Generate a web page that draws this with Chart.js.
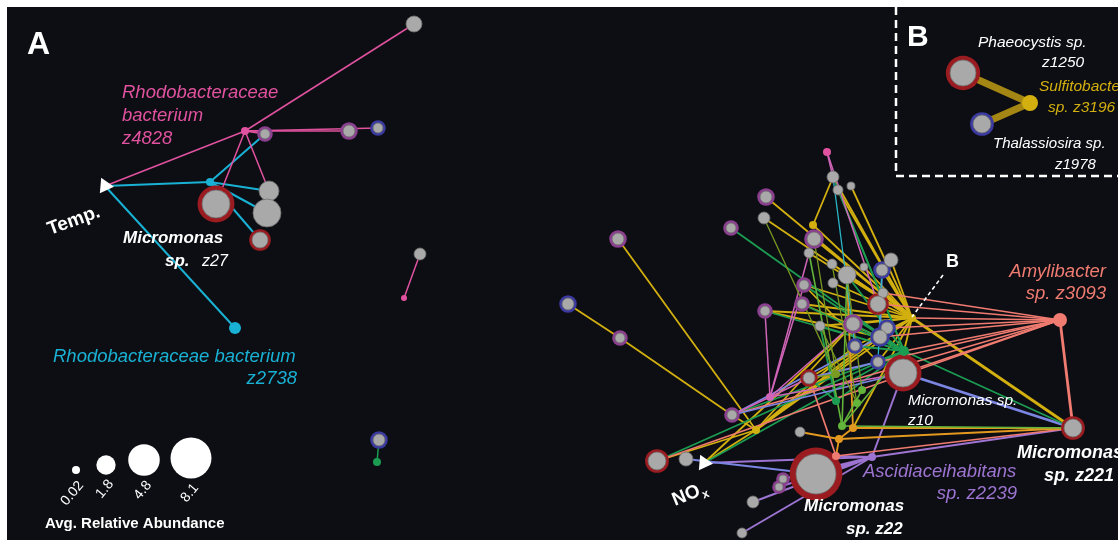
<!DOCTYPE html>
<html>
<head>
<meta charset="utf-8">
<script src="https://cdn.jsdelivr.net/npm/chart.js@4.4.1/dist/chart.umd.min.js"></script>
<style>
  html, body { margin: 0; padding: 0; background: #fff; }
  #wrap { width: 1118px; height: 540px; }
</style>
</head>
<body>
<div id="wrap"><canvas id="net"></canvas></div>
<script>
// ---- network data: node ids, layout coordinates, avg relative abundance, node kind ----
var nodeIds = [
  'temp','lpink','ltop','la','lb','lc','lcyan','z27','ld','le','lf','z2738','lg','lpink2','lh','lgreen',
  'nox','y1','y2','y3','amy','sal2','asc','gr1','gr2','gr3','ol1','ol2','ol3','or1','or2','pk1','pk2',
  'g1','g2','g3','g4','g5','g6','g7','g8','g9','g10','g11','g12','g13','g14','g15','g16','g17','g18',
  'g19','g20','g21','g22','g23','g24','g25','g26','g27','g28','z10','g29','g30','g31','g32','g33','z22',
  'g34','g35','g36','g37','z221','phaeo','thal','sulfi'
];
var nodeX = [
  105,245,414,265,349,378,210,216,269,267,260,235,420,404,379,377,
  704,912,756,813,1060,836,872,904,836,842,836,862,857,853,839,770,827,
  766,764,731,618,568,620,814,809,832,847,864,891,882,833,838,851,804,833,
  883,878,802,765,820,853,887,880,855,878,903,809,732,800,657,686,816,
  783,779,753,742,1073,963,982,1030
];
var nodeY = [
  186,131,24,134,131,128,182,204,191,213,240,328,254,298,440,462,
  463,318,430,225,320,456,457,351,401,426,374,390,403,428,439,397,152,
  197,218,228,239,304,338,239,253,264,275,267,260,270,177,190,186,285,283,
  293,304,304,311,326,324,328,337,346,362,373,378,415,432,461,459,474,
  479,487,502,533,428,73,124,103
];
var nodeAbund = [
  0,0.31,1.23,0.48,0.69,0.48,0.31,3.78,1.93,3.78,1.23,0.69,0.69,0.17,0.69,0.31,
  0,0.31,0.31,0.31,0.95,0.31,0.31,0.48,0.31,0.31,0.31,0.31,0.31,0.31,0.31,0.31,0.31,
  0.69,0.69,0.48,0.69,0.69,0.48,0.95,0.48,0.48,1.56,0.31,0.95,0.69,0.69,0.48,0.31,0.48,0.48,
  0.48,1.23,0.48,0.48,0.48,0.95,0.69,0.95,0.48,0.48,3.78,0.69,0.48,0.48,1.56,0.95,7.72,
  0.31,0.31,0.69,0.48,1.56,3.26,1.56,1.23
];
var nodeKind = [
  'env','pink','gray','grayP','grayP','grayB','cyan','grayR','gray','gray','grayR','cyan','gray','pink','grayB','green',
  'env','yellow','yellow','yellow','salmon','salmon','purple','green','green','lime','olive','lime','lime','orange','orange','magenta','pink',
  'grayP','gray','grayP','grayP','grayB','grayP','grayP','gray','gray','gray','gray','gray','grayB','gray','gray','gray','grayP','gray',
  'gray','grayR','grayP','grayP','gray','grayP','grayB','grayB','grayB','grayB','grayR','grayR','grayP','gray','grayR','gray','grayR',
  'grayP','grayP','gray','gray','grayR','grayR','grayB','yellow'
];

// ---- correlation edges, grouped by colour of the bacterial partner ----
var edgesPink = [['temp','lpink'],['lpink','ltop'],['lpink','la'],['lpink','lb'],['lpink','lc'],['lpink','z27'],['lpink','ld'],['lg','lpink2']];
var edgesCyan = [['temp','lcyan'],['lcyan','la'],['lcyan','ld'],['lcyan','le'],['lcyan','lf'],['temp','z2738']];
var edgesGreenLeft = [['lh','lgreen']];
var edgesYellow = [
  ['g4','y2'],['g5','g6'],['g6','g30'],['y2','nox'],['y2','g30'],['y2','y1'],['y2','g32'],['y2','g24'],['y2','g27'],
  ['y3','g14'],['y3','y1'],['y1','g1'],['y1','g2'],['y1','g7'],['y1','g8'],['y1','g9'],['y1','g10'],['y1','g12'],
  ['y1','g14'],['y1','g15'],['y1','g16'],['y1','g17'],['y1','g18'],['y1','g21'],['y1','g22'],['y1','g13'],['y1','g19'],
  ['y1','g11'],['y1','gr1'],['y1','g29'],['nox','g24'],['g21','g26'],['y1','g23'],['y1','g24'],['y1','g27'],
  ['y1','g28'],['y2','g26'],['y2','g25'],['g22','g26'],['g17','g28'],['y1','or1']
];
var edgesYellowThick = [['y1','z221']];
var edgesGreen = [
  ['g3','gr1'],['g22','gr1'],['g17','gr1'],['g21','gr1'],['g14','gr1'],['gr1','z221'],['g30','gr1'],['g32','gr1'],
  ['gr2','g29'],['gr1','g27'],['g24','gr1'],['nox','gr1'],['gr2','g23'],['gr1','g10'],['gr1','g28'],['gr1','z10'],
  ['gr2','gr1'],['g15','gr1'],['g23','gr1'],['g26','gr1']
];
var edgesSalmon = [
  ['amy','g20'],['amy','g25'],['amy','g26'],['amy','gr1'],['amy','z10'],['amy','g28'],['amy','y1'],['amy','g19'],
  ['amy','g30'],['amy','g32'],['sal2','z221'],['sal2','z22'],['sal2','g29']
];
var edgesSalmonThick = [['amy','z221']];
var edgesMagenta = [['pk2','g14'],['pk2','g20'],['pk1','g30'],['pk1','g22'],['pk1','g8'],['pk1','g24'],['pk1','g29'],['pk1','z10'],['pk1','g17']];
var edgesPurple = [['asc','z10'],['asc','z221'],['asc','nox'],['asc','g34'],['asc','g35'],['asc','g36'],['asc','g37'],['asc','z22'],['asc','sal2']];
var edgesBlue = [['g30','z10'],['g29','g28'],['g30','g26'],['g33','z22'],['g13','g26'],['g24','g27']];
var edgesBlueThick = [['z10','z221']];
var edgesOrange = [['or1','z221'],['or2','z221'],['or2','g31'],['or1','or2'],['or2','sal2'],['or1','g10']];
var edgesOlive = [['ol1','g7'],['ol1','g2'],['ol2','g10'],['ol3','g9'],['ol1','g29'],['ol3','g23']];
var edgesLime = [['gr3','z221'],['gr3','g8'],['gr3','g10'],['ol2','gr3'],['gr3','gr1']];
var edgesTeal = [['g13','g28'],['g14','g27']];
var edgesB = [['phaeo','sulfi'],['thal','sulfi']];

// size legend
var legendAbund = [0.02, 1.8, 4.8, 8.1];
var legendTicks = ['0.02', '1.8', '4.8', '8.1'];

// ---- styles ----
var colors = {
  bg: '#0d0e13', gray: '#a9a9a9', grayEdge: '#6f6f6f',
  ringR: '#9b1c20', ringP: '#8c3f90', ringB: '#3b3aa0',
  pink: '#e0529f', cyan: '#19b1d4', yellow: '#d3b00f', green: '#1c9c52', salmon: '#f07b70',
  purple: '#9d74d2', orange: '#e3991f', olive: '#7a9a22', lime: '#62b43a', magenta: '#d064b8',
  blue: '#7b86e2', teal: '#2ab6c8', bEdge: 'rgba(190,155,20,0.85)'
};
var FONT = '"Liberation Sans", Arial, Helvetica, sans-serif';

function radius(a) { return Math.max(3, 7.2 * Math.sqrt(a)); }
function idx(id) { return nodeIds.indexOf(id); }
function pt(id) { var i = idx(id); return { x: nodeX[i], y: nodeY[i] }; }

var datasets = [];
function addEdges(list, color, width) {
  list.forEach(function (p) {
    datasets.push({
      data: [pt(p[0]), pt(p[1])], showLine: true, borderColor: color, borderWidth: width,
      pointRadius: 0, pointHoverRadius: 0, order: 10
    });
  });
}
addEdges(edgesPink, colors.pink, 1.5);
addEdges(edgesCyan, colors.cyan, 2);
addEdges(edgesGreenLeft, colors.green, 1.5);
addEdges(edgesOlive, colors.olive, 1.3);
addEdges(edgesLime, colors.lime, 1.6);
addEdges(edgesTeal, colors.teal, 1.3);
addEdges(edgesMagenta, colors.magenta, 1.5);
addEdges(edgesOrange, colors.orange, 1.8);
addEdges(edgesBlue, colors.blue, 1.8);
addEdges(edgesSalmon, colors.salmon, 1.7);
addEdges(edgesGreen, colors.green, 1.8);
addEdges(edgesYellow, colors.yellow, 1.8);
addEdges(edgesPurple, colors.purple, 2);
addEdges(edgesBlueThick, colors.blue, 2.6);
addEdges(edgesYellowThick, colors.yellow, 2.8);
addEdges(edgesSalmonThick, colors.salmon, 2.8);
addEdges(edgesB, colors.bEdge, 7);

// rings (eukaryote groups), gray eukaryote nodes, coloured bacteria / env nodes
var ringMap = { grayR: colors.ringR, grayP: colors.ringP, grayB: colors.ringB };
var ringPts = [], ringRad = [], ringCol = [];
var grayPts = [], grayRad = [];
var hubPts = [], hubRad = [], hubCol = [];
var envPts = [];
nodeIds.forEach(function (id, i) {
  var k = nodeKind[i], p = { x: nodeX[i], y: nodeY[i] }, r = radius(nodeAbund[i]);
  if (k === 'env') { envPts.push(p); return; }
  if (k.indexOf('gray') === 0) {
    grayPts.push(p); grayRad.push(r);
    if (ringMap[k]) { ringPts.push(p); ringRad.push(r + Math.max(2.8, r * 0.32)); ringCol.push(ringMap[k]); }
  } else {
    hubPts.push(p); hubRad.push(r); hubCol.push(colors[k]);
  }
});
datasets.push({ data: ringPts, pointRadius: ringRad, pointHoverRadius: ringRad, pointBackgroundColor: ringCol, pointBorderWidth: 0, order: 4 });
datasets.push({ data: grayPts, pointRadius: grayRad, pointHoverRadius: grayRad, pointBackgroundColor: colors.gray, pointBorderColor: colors.grayEdge, pointBorderWidth: 0.8, order: 3 });
datasets.push({ data: hubPts, pointRadius: hubRad, pointHoverRadius: hubRad, pointBackgroundColor: hubCol, pointBorderWidth: 0, order: 2 });
datasets.push({ data: envPts, pointStyle: 'triangle', pointRotation: 95, pointRadius: 9, pointHoverRadius: 9, pointBackgroundColor: '#ffffff', pointBorderWidth: 0, order: 1 });

// ---- text annotations (layout coordinates) ----
var labels = [
  { t: 'Rhodobacteraceae', x: 122, y: 98, c: colors.pink, f: 'italic 18.5px' },
  { t: 'bacterium', x: 122, y: 121, c: colors.pink, f: 'italic 18.5px' },
  { t: 'z4828', x: 122, y: 144, c: colors.pink, f: 'italic 18.5px' },
  { t: 'Micromonas', x: 123, y: 243, c: '#fff', f: 'italic bold 17px' },
  { t: 'sp.', x: 165, y: 266, c: '#fff', f: 'italic bold 17px' },
  { t: 'z27', x: 202, y: 266, c: '#fff', f: 'italic 16px' },
  { t: 'Rhodobacteraceae bacterium', x: 53, y: 362, c: colors.cyan, f: 'italic 18.5px' },
  { t: 'z2738', x: 297, y: 384, c: colors.cyan, f: 'italic 18.5px', a: 'right' },
  { t: 'Amylibacter', x: 1106, y: 277, c: colors.salmon, f: 'italic 18.5px', a: 'right' },
  { t: 'sp. z3093', x: 1106, y: 299, c: colors.salmon, f: 'italic 18.5px', a: 'right' },
  { t: 'Micromonas sp.', x: 908, y: 405, c: '#fff', f: 'italic 15.5px' },
  { t: 'z10', x: 908, y: 425, c: '#fff', f: 'italic 15.5px' },
  { t: 'Micromonas', x: 1017, y: 458, c: '#fff', f: 'italic bold 18px' },
  { t: 'sp. z221', x: 1044, y: 481, c: '#fff', f: 'italic bold 18px' },
  { t: 'Ascidiaceihabitans', x: 863, y: 477, c: colors.purple, f: 'italic 18.5px' },
  { t: 'sp. z2239', x: 1017, y: 499, c: colors.purple, f: 'italic 18.5px', a: 'right' },
  { t: 'Micromonas', x: 804, y: 511, c: '#fff', f: 'italic bold 17px' },
  { t: 'sp. z22', x: 846, y: 534, c: '#fff', f: 'italic bold 17px' },
  { t: 'Phaeocystis sp.', x: 978, y: 47, c: '#fff', f: 'italic 15.5px' },
  { t: 'z1250', x: 1042, y: 67, c: '#fff', f: 'italic 15.5px' },
  { t: 'Sulfitobacter', x: 1039, y: 91, c: colors.yellow, f: 'italic 15.5px' },
  { t: 'sp. z3196', x: 1048, y: 112, c: colors.yellow, f: 'italic 15.5px' },
  { t: 'Thalassiosira sp.', x: 993, y: 148, c: '#fff', f: 'italic 15px' },
  { t: 'z1978', x: 1055, y: 169, c: '#fff', f: 'italic 15px' },
  { t: 'A', x: 27, y: 54, c: '#fff', f: 'bold 32px' },
  { t: 'B', x: 907, y: 46, c: '#fff', f: 'bold 30px' },
  { t: 'B', x: 946, y: 267, c: '#fff', f: 'bold 18px' },
  { t: 'Avg. Relative Abundance', x: 45, y: 528, c: '#fff', f: 'bold 15px' }
];

var decor = {
  id: 'decor',
  beforeDraw: function (chart) {
    var ctx = chart.ctx;
    ctx.save();
    ctx.fillStyle = '#fff';
    ctx.fillRect(0, 0, chart.width, chart.height);
    ctx.fillStyle = colors.bg;
    ctx.fillRect(7, 7, chart.width - 7, chart.height - 7);
    ctx.restore();
  },
  afterDatasetsDraw: function (chart) {
    var ctx = chart.ctx, sx = chart.scales.x, sy = chart.scales.y;
    function X(v) { return sx.getPixelForValue(v); }
    function Y(v) { return sy.getPixelForValue(v); }
    ctx.save();

    // inset B frame
    ctx.strokeStyle = '#fff';
    ctx.lineWidth = 2.5;
    ctx.setLineDash([8, 5]);
    ctx.beginPath();
    ctx.moveTo(X(896), Y(7));
    ctx.lineTo(X(896), Y(176));
    ctx.lineTo(X(1118), Y(176));
    ctx.stroke();
    // pointer to B
    ctx.lineWidth = 1.6;
    ctx.setLineDash([4, 3]);
    ctx.beginPath();
    ctx.moveTo(X(943), Y(275));
    ctx.lineTo(X(912), Y(317));
    ctx.stroke();
    ctx.setLineDash([]);

    labels.forEach(function (l) {
      ctx.font = l.f + ' ' + FONT;
      ctx.fillStyle = l.c;
      ctx.textAlign = l.a || 'left';
      ctx.textBaseline = 'alphabetic';
      ctx.fillText(l.t, X(l.x), Y(l.y));
    });

    // rotated environment labels
    ctx.fillStyle = '#fff';
    ctx.textAlign = 'left';
    ctx.save();
    ctx.translate(X(50), Y(235));
    ctx.rotate(-20 * Math.PI / 180);
    ctx.font = 'bold 19px ' + FONT;
    ctx.fillText('Temp.', 0, 0);
    ctx.restore();
    ctx.save();
    ctx.translate(X(675), Y(506));
    ctx.rotate(-22 * Math.PI / 180);
    ctx.font = 'bold 19px ' + FONT;
    ctx.fillText('NO', 0, 0);
    var w = ctx.measureText('NO').width;
    ctx.font = 'bold 12px ' + FONT;
    ctx.fillText('x', w + 1, 4);
    ctx.restore();

    // abundance size legend
    var lx = [76, 106, 144, 191], ly = [470, 465, 460, 458];
    legendAbund.forEach(function (a, i) {
      ctx.fillStyle = '#fff';
      ctx.beginPath();
      ctx.arc(X(lx[i]), Y(ly[i]), a < 0.1 ? 4 : radius(a), 0, Math.PI * 2);
      ctx.fill();
      ctx.save();
      ctx.translate(X(lx[i] + 5), Y(ly[i] + 13 + (i > 0 ? radius(a) - 6 : 0)));
      ctx.rotate(-50 * Math.PI / 180);
      ctx.font = '14px ' + FONT;
      ctx.textAlign = 'right';
      ctx.textBaseline = 'middle';
      ctx.fillText(legendTicks[i], 0, 0);
      ctx.restore();
    });
    ctx.restore();
  }
};

new Chart(document.getElementById('net'), {
  type: 'scatter',
  data: { datasets: datasets },
  options: {
    responsive: true,
    maintainAspectRatio: false,
    animation: false,
    layout: { padding: 0, autoPadding: false },
    plugins: { legend: { display: false }, tooltip: { enabled: false } },
    scales: {
      x: { type: 'linear', min: 0, max: 1118, display: false },
      y: { type: 'linear', min: 0, max: 540, reverse: true, display: false }
    }
  },
  plugins: [decor]
});
</script>
</body>
</html>
